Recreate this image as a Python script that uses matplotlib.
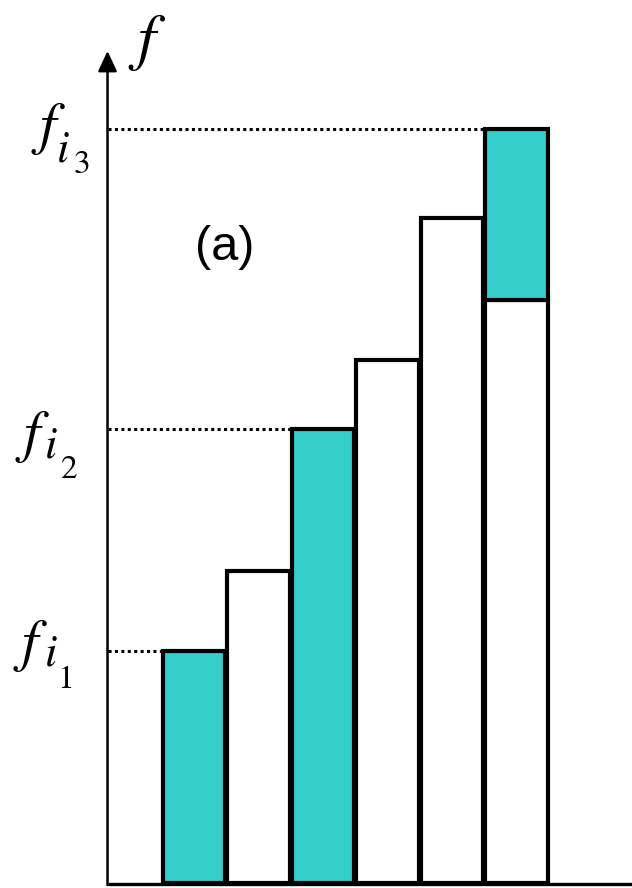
import matplotlib.pyplot as plt

# bar values, bottom to top (white part and teal part stacked)
white_part = [0, 312, 0, 523, 665, 583]
teal_part = [232, 0, 454, 0, 0, 171]
subscripts = ['1', '2', '3']
marked = [0, 2, 5]  # bars whose top gets a dotted guide

plt.rcParams['mathtext.fontset'] = 'stix'

fig = plt.figure(figsize=(6.32, 8.88), dpi=100)
ax = fig.add_axes([0, 0, 1, 1])
ax.set_xlim(-3.008, 6.79)
ax.set_ylim(-5, 883)
ax.axis('off')

def px2x(px):
	return (px - 194) / 64.5

def py2y(py):
	return 883 - py

teal = '#35cccc'
n = len(white_part)
xs = list(range(n))
w = 0.97
for i in xs:
	if white_part[i]:
		ax.bar(i, white_part[i], width=w, color='white', edgecolor='black', lw=3, zorder=2)
	if teal_part[i]:
		ax.bar(i, teal_part[i], width=w, bottom=white_part[i], color=teal, edgecolor='black', lw=3, zorder=3)

yx = px2x(107.5)
# axes
ax.plot([yx, 6.79], [-1, -1], color='black', lw=2.4, zorder=4, solid_capstyle='butt')
ax.annotate('', xy=(yx, py2y(51)), xytext=(yx, -2),
	arrowprops=dict(arrowstyle='-|>,head_length=0.62,head_width=0.29', lw=1.8, color='black', mutation_scale=20, shrinkA=0, shrinkB=0))
ax.text(px2x(128), py2y(58), r'$f$', fontsize=46, va='baseline', ha='left')

# label pieces: left edge and baseline in pixels for f, i and the digit
f_pos = [(13, 660), (15, 451), (31, 143)]
i_pos = [(44, 665), (44, 458), (56, 162)]
d_pos = [(57, 688), (61, 478), (74, 173)]
for k, i in enumerate(marked):
	top = white_part[i] + teal_part[i]
	ax.plot([yx, i - w / 2], [top, top], color='black', lw=2.2, ls=(0, (1, 1.1)), zorder=1)
	ax.text(px2x(f_pos[k][0]), py2y(f_pos[k][1]), r'$f$', fontsize=42, va='baseline', ha='left')
	ax.text(px2x(i_pos[k][0]), py2y(i_pos[k][1]), r'$i$', fontsize=32, va='baseline', ha='left')
	ax.text(px2x(d_pos[k][0]), py2y(d_pos[k][1]), subscripts[k], fontsize=24, family='STIXGeneral', va='baseline', ha='left')

ax.text(px2x(225), py2y(247), '(a)', fontsize=35, family='Liberation Sans', ha='center', va='center')

fig.savefig('out.png', dpi=100)
